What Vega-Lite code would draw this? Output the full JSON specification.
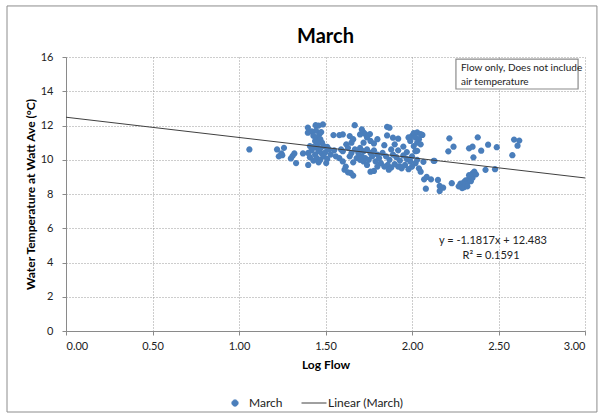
{
  "$schema": "https://vega.github.io/schema/vega-lite/v6.json",
  "width": 519,
  "height": 274,
  "autosize": {"type": "none"},
  "padding": {"left": 66, "top": 57, "right": 20, "bottom": 85},
  "background": "white",
  "title": {"text": "March", "fontSize": 20, "fontWeight": "bold", "anchor": "middle", "frame": "group", "offset": 0, "dy": 42, "color": "#000000"},
  "config": {
    "font": "Lato",
    "view": {"stroke": null},
    "axis": {
      "labelFontSize": 11,
      "labelColor": "#222222",
      "titleFontSize": 12,
      "titleFontWeight": "bold",
      "titleColor": "#000000",
      "grid": true,
      "gridColor": "#9a9a9a",
      "gridDash": [1, 2],
      "gridWidth": 1,
      "domainColor": "#8a8a8a",
      "tickColor": "#8a8a8a",
      "tickSize": 4,
      "labelOverlap": false
    },
    "axisY": {"tickCount": 9, "values": [0, 2, 4, 6, 8, 10, 12, 14, 16]},
    "axisX": {"tickCount": 7, "values": [0, 0.5, 1, 1.5, 2, 2.5, 3]}
  },
  "datasets": {
    "march": [
      {"logFlow": 1.06, "temp": 10.6}, {"logFlow": 1.22, "temp": 10.6}, {"logFlow": 1.26, "temp": 10.7},
      {"logFlow": 1.245, "temp": 10.37}, {"logFlow": 1.25, "temp": 10.27}, {"logFlow": 1.3, "temp": 10.08},
      {"logFlow": 1.31, "temp": 10.23}, {"logFlow": 1.32, "temp": 10.37}, {"logFlow": 1.33, "temp": 9.81},
      {"logFlow": 1.37, "temp": 10.37}, {"logFlow": 1.23, "temp": 10.2},
      {"logFlow": 1.398, "temp": 11.88}, {"logFlow": 1.398, "temp": 11.58}, {"logFlow": 1.443, "temp": 12.02},
      {"logFlow": 1.46, "temp": 12.0}, {"logFlow": 1.485, "temp": 12.06}, {"logFlow": 1.42, "temp": 11.65},
      {"logFlow": 1.445, "temp": 11.7}, {"logFlow": 1.465, "temp": 11.5}, {"logFlow": 1.475, "temp": 11.62},
      {"logFlow": 1.43, "temp": 11.4}, {"logFlow": 1.45, "temp": 11.3}, {"logFlow": 1.47, "temp": 11.2},
      {"logFlow": 1.44, "temp": 11.1}, {"logFlow": 1.48, "temp": 11.0}, {"logFlow": 1.455, "temp": 10.95},
      {"logFlow": 1.41, "temp": 10.8}, {"logFlow": 1.43, "temp": 10.75}, {"logFlow": 1.45, "temp": 10.7},
      {"logFlow": 1.47, "temp": 10.65}, {"logFlow": 1.49, "temp": 10.8}, {"logFlow": 1.51, "temp": 10.75},
      {"logFlow": 1.42, "temp": 10.55}, {"logFlow": 1.46, "temp": 10.5}, {"logFlow": 1.4, "temp": 10.4},
      {"logFlow": 1.44, "temp": 10.3}, {"logFlow": 1.48, "temp": 10.35}, {"logFlow": 1.5, "temp": 10.45},
      {"logFlow": 1.52, "temp": 10.6}, {"logFlow": 1.41, "temp": 10.15}, {"logFlow": 1.45, "temp": 10.1},
      {"logFlow": 1.47, "temp": 10.0}, {"logFlow": 1.49, "temp": 10.2}, {"logFlow": 1.43, "temp": 9.95},
      {"logFlow": 1.46, "temp": 9.85}, {"logFlow": 1.51, "temp": 10.05}, {"logFlow": 1.4, "temp": 9.7},
      {"logFlow": 1.504, "temp": 9.81}, {"logFlow": 1.53, "temp": 10.3}, {"logFlow": 1.55, "temp": 10.55},
      {"logFlow": 1.56, "temp": 10.2},
      {"logFlow": 1.546, "temp": 11.44}, {"logFlow": 1.58, "temp": 11.44}, {"logFlow": 1.6, "temp": 11.48},
      {"logFlow": 1.61, "temp": 9.42}, {"logFlow": 1.63, "temp": 9.27}, {"logFlow": 1.59, "temp": 10.6},
      {"logFlow": 1.6, "temp": 10.5}, {"logFlow": 1.62, "temp": 10.9}, {"logFlow": 1.64, "temp": 11.38},
      {"logFlow": 1.66, "temp": 11.2}, {"logFlow": 1.65, "temp": 11.0}, {"logFlow": 1.63, "temp": 10.7},
      {"logFlow": 1.65, "temp": 10.4}, {"logFlow": 1.67, "temp": 10.6}, {"logFlow": 1.617, "temp": 9.6},
      {"logFlow": 1.646, "temp": 9.23}, {"logFlow": 1.66, "temp": 9.08}, {"logFlow": 1.58, "temp": 10.1},
      {"logFlow": 1.6, "temp": 9.9}, {"logFlow": 1.64, "temp": 10.2}, {"logFlow": 1.66, "temp": 9.85},
      {"logFlow": 1.68, "temp": 10.1},
      {"logFlow": 1.669, "temp": 12.02}, {"logFlow": 1.71, "temp": 11.77}, {"logFlow": 1.72, "temp": 11.6},
      {"logFlow": 1.73, "temp": 11.5}, {"logFlow": 1.7, "temp": 11.48}, {"logFlow": 1.757, "temp": 11.5},
      {"logFlow": 1.74, "temp": 11.3}, {"logFlow": 1.76, "temp": 11.1}, {"logFlow": 1.72, "temp": 11.0},
      {"logFlow": 1.78, "temp": 10.95}, {"logFlow": 1.8, "temp": 11.2}, {"logFlow": 1.856, "temp": 11.92},
      {"logFlow": 1.87, "temp": 11.87}, {"logFlow": 1.856, "temp": 11.42}, {"logFlow": 1.89, "temp": 11.29},
      {"logFlow": 1.92, "temp": 11.23}, {"logFlow": 1.84, "temp": 10.85}, {"logFlow": 1.9, "temp": 10.9},
      {"logFlow": 1.95, "temp": 10.77},
      {"logFlow": 1.7, "temp": 10.7}, {"logFlow": 1.72, "temp": 10.5}, {"logFlow": 1.74, "temp": 10.6},
      {"logFlow": 1.76, "temp": 10.4}, {"logFlow": 1.78, "temp": 10.55}, {"logFlow": 1.8, "temp": 10.3},
      {"logFlow": 1.71, "temp": 10.2}, {"logFlow": 1.73, "temp": 10.1}, {"logFlow": 1.75, "temp": 10.0},
      {"logFlow": 1.77, "temp": 10.2}, {"logFlow": 1.79, "temp": 9.9}, {"logFlow": 1.81, "temp": 10.1},
      {"logFlow": 1.83, "temp": 10.4}, {"logFlow": 1.85, "temp": 10.2}, {"logFlow": 1.87, "temp": 10.0},
      {"logFlow": 1.89, "temp": 10.3}, {"logFlow": 1.91, "temp": 10.15}, {"logFlow": 1.93, "temp": 9.95},
      {"logFlow": 1.95, "temp": 10.25}, {"logFlow": 1.97, "temp": 10.05}, {"logFlow": 1.99, "temp": 9.9},
      {"logFlow": 1.82, "temp": 9.8}, {"logFlow": 1.86, "temp": 9.7}, {"logFlow": 1.88, "temp": 9.55},
      {"logFlow": 1.9, "temp": 9.75}, {"logFlow": 1.92, "temp": 9.6}, {"logFlow": 1.94, "temp": 9.5},
      {"logFlow": 1.96, "temp": 9.7}, {"logFlow": 1.98, "temp": 9.45}, {"logFlow": 1.84, "temp": 9.6},
      {"logFlow": 1.76, "temp": 9.3}, {"logFlow": 1.78, "temp": 9.35}, {"logFlow": 1.866, "temp": 9.42},
      {"logFlow": 1.93, "temp": 9.62}, {"logFlow": 1.72, "temp": 9.9}, {"logFlow": 1.7, "temp": 10.0},
      {"logFlow": 1.69, "temp": 10.4}, {"logFlow": 1.74, "temp": 9.7}, {"logFlow": 2.0, "temp": 10.2},
      {"logFlow": 1.97, "temp": 10.45}, {"logFlow": 1.88, "temp": 10.6}, {"logFlow": 1.92, "temp": 10.55},
      {"logFlow": 1.8, "temp": 9.6},
      {"logFlow": 2.0, "temp": 11.4}, {"logFlow": 2.01, "temp": 11.55}, {"logFlow": 2.03, "temp": 11.6},
      {"logFlow": 2.05, "temp": 11.5}, {"logFlow": 2.02, "temp": 11.3}, {"logFlow": 2.04, "temp": 11.2},
      {"logFlow": 2.06, "temp": 11.45}, {"logFlow": 2.03, "temp": 11.0}, {"logFlow": 2.05, "temp": 10.9},
      {"logFlow": 2.03, "temp": 10.52}, {"logFlow": 2.02, "temp": 10.5}, {"logFlow": 2.01, "temp": 10.8},
      {"logFlow": 1.99, "temp": 11.1}, {"logFlow": 1.98, "temp": 11.3},
      {"logFlow": 2.04, "temp": 9.5}, {"logFlow": 2.05, "temp": 9.3}, {"logFlow": 2.02, "temp": 9.8},
      {"logFlow": 2.03, "temp": 10.0}, {"logFlow": 2.066, "temp": 9.88}, {"logFlow": 2.0, "temp": 9.6},
      {"logFlow": 2.07, "temp": 8.86}, {"logFlow": 2.085, "temp": 9.0}, {"logFlow": 2.11, "temp": 8.86},
      {"logFlow": 2.15, "temp": 8.82}, {"logFlow": 2.08, "temp": 8.31}, {"logFlow": 2.16, "temp": 8.47},
      {"logFlow": 2.18, "temp": 8.37}, {"logFlow": 2.16, "temp": 8.18}, {"logFlow": 2.13, "temp": 9.94},
      {"logFlow": 2.125, "temp": 9.94},
      {"logFlow": 2.216, "temp": 11.25}, {"logFlow": 2.24, "temp": 10.76}, {"logFlow": 2.21, "temp": 10.49},
      {"logFlow": 2.33, "temp": 10.67}, {"logFlow": 2.35, "temp": 10.76}, {"logFlow": 2.38, "temp": 11.31},
      {"logFlow": 2.4, "temp": 10.53}, {"logFlow": 2.44, "temp": 10.88}, {"logFlow": 2.355, "temp": 10.14},
      {"logFlow": 2.49, "temp": 10.73}, {"logFlow": 2.425, "temp": 9.41}, {"logFlow": 2.48, "temp": 9.45},
      {"logFlow": 2.59, "temp": 11.18}, {"logFlow": 2.62, "temp": 11.12}, {"logFlow": 2.61, "temp": 10.82},
      {"logFlow": 2.58, "temp": 10.27}, {"logFlow": 2.23, "temp": 8.63},
      {"logFlow": 2.27, "temp": 8.45}, {"logFlow": 2.28, "temp": 8.6}, {"logFlow": 2.29, "temp": 8.5},
      {"logFlow": 2.3, "temp": 8.7}, {"logFlow": 2.31, "temp": 8.8}, {"logFlow": 2.32, "temp": 8.65},
      {"logFlow": 2.33, "temp": 8.9}, {"logFlow": 2.34, "temp": 9.05}, {"logFlow": 2.35, "temp": 9.2},
      {"logFlow": 2.36, "temp": 9.3}, {"logFlow": 2.33, "temp": 9.1}, {"logFlow": 2.3, "temp": 8.4},
      {"logFlow": 2.29, "temp": 8.35}, {"logFlow": 2.31, "temp": 8.55}, {"logFlow": 2.34, "temp": 8.75},
      {"logFlow": 2.35, "temp": 8.95}, {"logFlow": 2.37, "temp": 9.15}, {"logFlow": 2.32, "temp": 8.45}
    ],
    "trend": [
      {"logFlow": 0, "temp": 12.483, "series": "Linear (March)"},
      {"logFlow": 3, "temp": 8.9379, "series": "Linear (March)"}
    ]
  },
  "layer": [
    {
      "data": {"name": "march"},
      "transform": [{"calculate": "'March'", "as": "series"}],
      "mark": {"type": "point", "filled": true, "opacity": 1, "size": 625},
      "encoding": {
        "x": {"field": "logFlow", "type": "quantitative",
          "scale": {"domain": [0, 3], "nice": false, "zero": false},
          "axis": {"values": [0, 0.5, 1, 1.5, 2, 2.5, 3], "format": ".2f", "title": "Log Flow", "labelPadding": 5, "titlePadding": 8}},
        "y": {"field": "temp", "type": "quantitative",
          "scale": {"domain": [0, 16], "nice": false},
          "axis": {"values": [0, 2, 4, 6, 8, 10, 12, 14, 16], "format": "d", "title": "Water Temperature at Watt Ave (°C)", "labelPadding": 9, "titleX": -36, "titleY": 137, "titleAngle": -90, "titleBaseline": "middle", "titleAlign": "center"}},
        "color": {"field": "series", "type": "nominal",
          "scale": {"domain": ["March", "Linear (March)"], "range": ["#4a7ebb", "#404040"]},
          "legend": {"orient": "none", "legendX": 156, "legendY": 333, "direction": "horizontal", "title": null,
            "labelFontSize": 12, "labelColor": "#222222", "columnPadding": 16, "labelOffset": 1,
            "symbolSize": 625, "symbolStrokeWidth": 1,
            "encode": {"symbols": {"update": {
              "stroke": {"scale": "color", "field": "value"}
            }}}}},
        "shape": {"field": "series", "type": "nominal",
          "scale": {"domain": ["March", "Linear (March)"],
            "range": ["M -0.25 0 A 0.25 0.25 0 1 0 0.25 0 A 0.25 0.25 0 1 0 -0.25 0 Z", "stroke"]}}
      }
    },
    {
      "data": {"name": "trend"},
      "mark": {"type": "line", "strokeWidth": 1},
      "encoding": {
        "x": {"field": "logFlow", "type": "quantitative"},
        "y": {"field": "temp", "type": "quantitative"},
        "color": {"field": "series", "type": "nominal"}
      }
    },
    {
      "data": {"values": [{}]},
      "mark": {"type": "rect", "fill": null, "stroke": "#8c8c8c", "strokeWidth": 1},
      "encoding": {
        "x": {"datum": -0.341}, "x2": {"datum": 3.069},
        "y": {"datum": 18.98}, "y2": {"datum": -4.73}
      }
    },
    {
      "data": {"values": [{}]},
      "mark": {"type": "rect", "fill": "white", "stroke": "#8c8c8c", "strokeWidth": 1.2},
      "encoding": {
        "x": {"datum": 2.254}, "x2": {"datum": 2.96},
        "y": {"datum": 15.88}, "y2": {"datum": 14.13}
      }
    },
    {
      "data": {"values": [{}]},
      "mark": {"type": "text", "text": ["Flow only, Does not include", "air temperature"], "align": "left", "baseline": "top",
        "fontSize": 10, "lineHeight": 14, "color": "#222222"},
      "encoding": {"x": {"datum": 2.283}, "y": {"datum": 15.66}}
    },
    {
      "data": {"values": [
        {"label": "y = -1.1817x + 12.483", "px": 2.468, "py": 5.26},
        {"label": "R² = 0.1591", "px": 2.457, "py": 4.38}
      ]},
      "mark": {"type": "text", "align": "center", "baseline": "middle", "fontSize": 11, "color": "#222222"},
      "encoding": {
        "x": {"field": "px", "type": "quantitative"},
        "y": {"field": "py", "type": "quantitative"},
        "text": {"field": "label"}
      }
    }
  ]
}
